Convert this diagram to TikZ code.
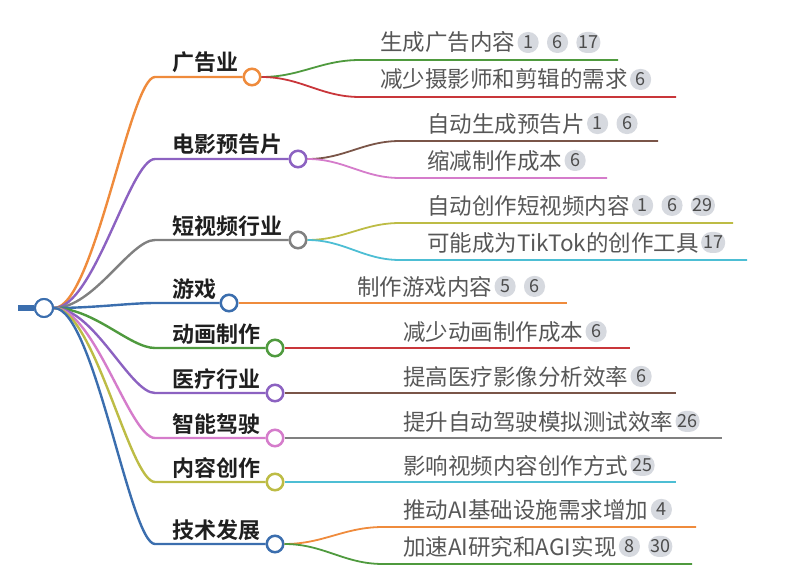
\documentclass[tikz,border=0pt]{standalone}
\usepackage{fontspec}
\setmainfont{Noto Sans CJK SC}[BoldFont={Noto Sans CJK SC Bold}]
\usepackage{xcolor}
\usepackage{tikz}
\usetikzlibrary{positioning}

\definecolor{mOrange}{HTML}{EF8B3C}
\definecolor{mPurple}{HTML}{8C62C1}
\definecolor{mGray}{HTML}{808080}
\definecolor{mBlue}{HTML}{3B6EAE}
\definecolor{mGreen}{HTML}{4F9A3E}
\definecolor{mPink}{HTML}{D57CCB}
\definecolor{mOlive}{HTML}{BDBC45}
\definecolor{mRed}{HTML}{C9363A}
\definecolor{mBrown}{HTML}{7A5548}
\definecolor{mCyan}{HTML}{4DBED4}
\definecolor{badgeGray}{HTML}{D6D9DF}

\begin{document}
\begin{tikzpicture}[x=1pt, y=-1pt,
    topic/.style={font=\bfseries\fontsize{22}{24}\selectfont, text=black!88, anchor=base west, inner sep=0},
    leaf/.style={font=\fontsize{22.5}{25}\selectfont, text=black!66, anchor=base west, inner sep=0},
    hub/.style={circle, draw, fill=white, line width=2, minimum size=17, inner sep=0},
    badge/.style={rectangle, rounded corners=10, fill=badgeGray, minimum height=21, minimum width=21, inner sep=2, font=\fontsize{18}{19}\selectfont, text=black!70},
    main/.style={line width=2.4},
    sub/.style={line width=1.8}]
    \useasboundingbox (0,0) rectangle (800,575);

    % root
    \coordinate (Stub) at (18,308);
    \node (Root) [hub, draw=mBlue, minimum size=18] at (44,308) {};
    \draw[mBlue, line width=6] (Stub) -- (Root.west);

    % level one
    \node (AdsHub) [hub, draw=mOrange] at (252,77) {};
    \node (FilmHub) [hub, draw=mPurple] at (298,159) {};
    \node (ShortHub) [hub, draw=mGray] at (298,240) {};
    \node (GameHub) [hub, draw=mBlue] at (229,303) {};
    \node (AnimHub) [hub, draw=mGreen] at (275,348) {};
    \node (MedHub) [hub, draw=mPurple] at (275,393) {};
    \node (DriveHub) [hub, draw=mPink] at (275,438) {};
    \node (ContentHub) [hub, draw=mOlive] at (275,482) {};
    \node (TechHub) [hub, draw=mBlue] at (275,544) {};

    \node (Ads) [topic] at (172,71) {广告业};
    \node (Film) [topic] at (172,153) {电影预告片};
    \node (Short) [topic] at (172,234) {短视频行业};
    \node (Game) [topic] at (172,297) {游戏};
    \node (Anim) [topic] at (172,342) {动画制作};
    \node (Med) [topic] at (172,387) {医疗行业};
    \node (Drive) [topic] at (172,432) {智能驾驶};
    \node (Content) [topic] at (172,476) {内容创作};
    \node (Tech) [topic] at (172,538) {技术发展};

    \coordinate (AdsBend) at (155,77);
    \coordinate (FilmBend) at (155,159);
    \coordinate (ShortBend) at (155,240);
    \coordinate (GameBend) at (155,303);
    \coordinate (AnimBend) at (155,348);
    \coordinate (MedBend) at (155,393);
    \coordinate (DriveBend) at (155,438);
    \coordinate (ContentBend) at (155,482);
    \coordinate (TechBend) at (155,544);

    \draw[main, mOrange] (Root.east) .. controls +(40,0) and +(-25,0) .. (AdsBend) -- (AdsHub.west);
    \draw[main, mPurple] (Root.east) .. controls +(40,0) and +(-25,0) .. (FilmBend) -- (FilmHub.west);
    \draw[main, mGray] (Root.east) .. controls +(40,0) and +(-25,0) .. (ShortBend) -- (ShortHub.west);
    \draw[main, mBlue] (Root.east) .. controls +(40,0) and +(-25,0) .. (GameBend) -- (GameHub.west);
    \draw[main, mGreen] (Root.east) .. controls +(40,0) and +(-25,0) .. (AnimBend) -- (AnimHub.west);
    \draw[main, mPurple] (Root.east) .. controls +(40,0) and +(-25,0) .. (MedBend) -- (MedHub.west);
    \draw[main, mPink] (Root.east) .. controls +(40,0) and +(-25,0) .. (DriveBend) -- (DriveHub.west);
    \draw[main, mOlive] (Root.east) .. controls +(40,0) and +(-25,0) .. (ContentBend) -- (ContentHub.west);
    \draw[main, mBlue] (Root.east) .. controls +(40,0) and +(-25,0) .. (TechBend) -- (TechHub.west);

    % level two
    \node (AdsGen) [leaf] at (380,51) {生成广告内容};
    \node (AdsGenA) [badge, right=2pt of AdsGen] {1};
    \node (AdsGenB) [badge, right=8pt of AdsGenA] {6};
    \node (AdsGenC) [badge, right=8pt of AdsGenB] {17};
    \coordinate (AdsGenL) at (360,60);
    \coordinate (AdsGenR) at (618,60);
    \draw[sub, mGreen] (AdsHub.east) to[out=0, in=180] (AdsGenL) -- (AdsGenR);

    \node (AdsCut) [leaf] at (380,88) {减少摄影师和剪辑的需求};
    \node (AdsCutA) [badge, right=2pt of AdsCut] {6};
    \coordinate (AdsCutL) at (360,97);
    \coordinate (AdsCutR) at (676,97);
    \draw[sub, mRed] (AdsHub.east) to[out=0, in=180] (AdsCutL) -- (AdsCutR);

    \node (FilmGen) [leaf] at (427,132) {自动生成预告片};
    \node (FilmGenA) [badge, right=2pt of FilmGen] {1};
    \node (FilmGenB) [badge, right=8pt of FilmGenA] {6};
    \coordinate (FilmGenL) at (400,141);
    \coordinate (FilmGenR) at (658,141);
    \draw[sub, mBrown] (FilmHub.east) to[out=0, in=180] (FilmGenL) -- (FilmGenR);

    \node (FilmCost) [leaf] at (427,169) {缩减制作成本};
    \node (FilmCostA) [badge, right=2pt of FilmCost] {6};
    \coordinate (FilmCostL) at (400,178);
    \coordinate (FilmCostR) at (607,178);
    \draw[sub, mPink] (FilmHub.east) to[out=0, in=180] (FilmCostL) -- (FilmCostR);

    \node (ShortGen) [leaf] at (427,214) {自动创作短视频内容};
    \node (ShortGenA) [badge, right=2pt of ShortGen] {1};
    \node (ShortGenB) [badge, right=8pt of ShortGenA] {6};
    \node (ShortGenC) [badge, right=8pt of ShortGenB] {29};
    \coordinate (ShortGenL) at (400,223);
    \coordinate (ShortGenR) at (733,223);
    \draw[sub, mOlive] (ShortHub.east) to[out=0, in=180] (ShortGenL) -- (ShortGenR);

    \node (ShortTool) [leaf] at (427,251) {可能成为TikTok的创作工具};
    \node (ShortToolA) [badge, right=2pt of ShortTool] {17};
    \coordinate (ShortToolL) at (400,260);
    \coordinate (ShortToolR) at (747,260);
    \draw[sub, mCyan] (ShortHub.east) to[out=0, in=180] (ShortToolL) -- (ShortToolR);

    \node (GameGen) [leaf] at (357,295) {制作游戏内容};
    \node (GameGenA) [badge, right=2pt of GameGen] {5};
    \node (GameGenB) [badge, right=8pt of GameGenA] {6};
    \coordinate (GameGenR) at (567,303);
    \draw[sub, mOrange] (GameHub.east) -- (GameGenR);

    \node (AnimCost) [leaf] at (403,340) {减少动画制作成本};
    \node (AnimCostA) [badge, right=2pt of AnimCost] {6};
    \coordinate (AnimCostR) at (630,348);
    \draw[sub, mRed] (AnimHub.east) -- (AnimCostR);

    \node (MedImg) [leaf] at (403,385) {提高医疗影像分析效率};
    \node (MedImgA) [badge, right=2pt of MedImg] {6};
    \coordinate (MedImgR) at (676,393);
    \draw[sub, mBrown] (MedHub.east) -- (MedImgR);

    \node (DriveSim) [leaf] at (403,430) {提升自动驾驶模拟测试效率};
    \node (DriveSimA) [badge, right=2pt of DriveSim] {26};
    \coordinate (DriveSimR) at (722,438);
    \draw[sub, mGray] (DriveHub.east) -- (DriveSimR);

    \node (ContentWay) [leaf] at (403,474) {影响视频内容创作方式};
    \node (ContentWayA) [badge, right=2pt of ContentWay] {25};
    \coordinate (ContentWayR) at (676,482);
    \draw[sub, mCyan] (ContentHub.east) -- (ContentWayR);

    \node (TechInfra) [leaf] at (403,518) {推动AI基础设施需求增加};
    \node (TechInfraA) [badge, right=2pt of TechInfra] {4};
    \coordinate (TechInfraL) at (383,527);
    \coordinate (TechInfraR) at (696,527);
    \draw[sub, mOrange] (TechHub.east) to[out=0, in=180] (TechInfraL) -- (TechInfraR);

    \node (TechAGI) [leaf] at (403,555) {加速AI研究和AGI实现};
    \node (TechAGIA) [badge, right=2pt of TechAGI] {8};
    \node (TechAGIB) [badge, right=8pt of TechAGIA] {30};
    \coordinate (TechAGIL) at (383,564);
    \coordinate (TechAGIR) at (692,564);
    \draw[sub, mGreen] (TechHub.east) to[out=0, in=180] (TechAGIL) -- (TechAGIR);

    % redraw hubs on top of the lines
    \foreach \h/\c/\r in {Root/mBlue/9, AdsHub/mOrange/8, FilmHub/mPurple/8, ShortHub/mGray/8, GameHub/mBlue/8,
        AnimHub/mGreen/8, MedHub/mPurple/8, DriveHub/mPink/8, ContentHub/mOlive/8, TechHub/mBlue/8}
        \draw[\c, fill=white, line width=2] (\h) circle (\r);
\end{tikzpicture}
\end{document}
